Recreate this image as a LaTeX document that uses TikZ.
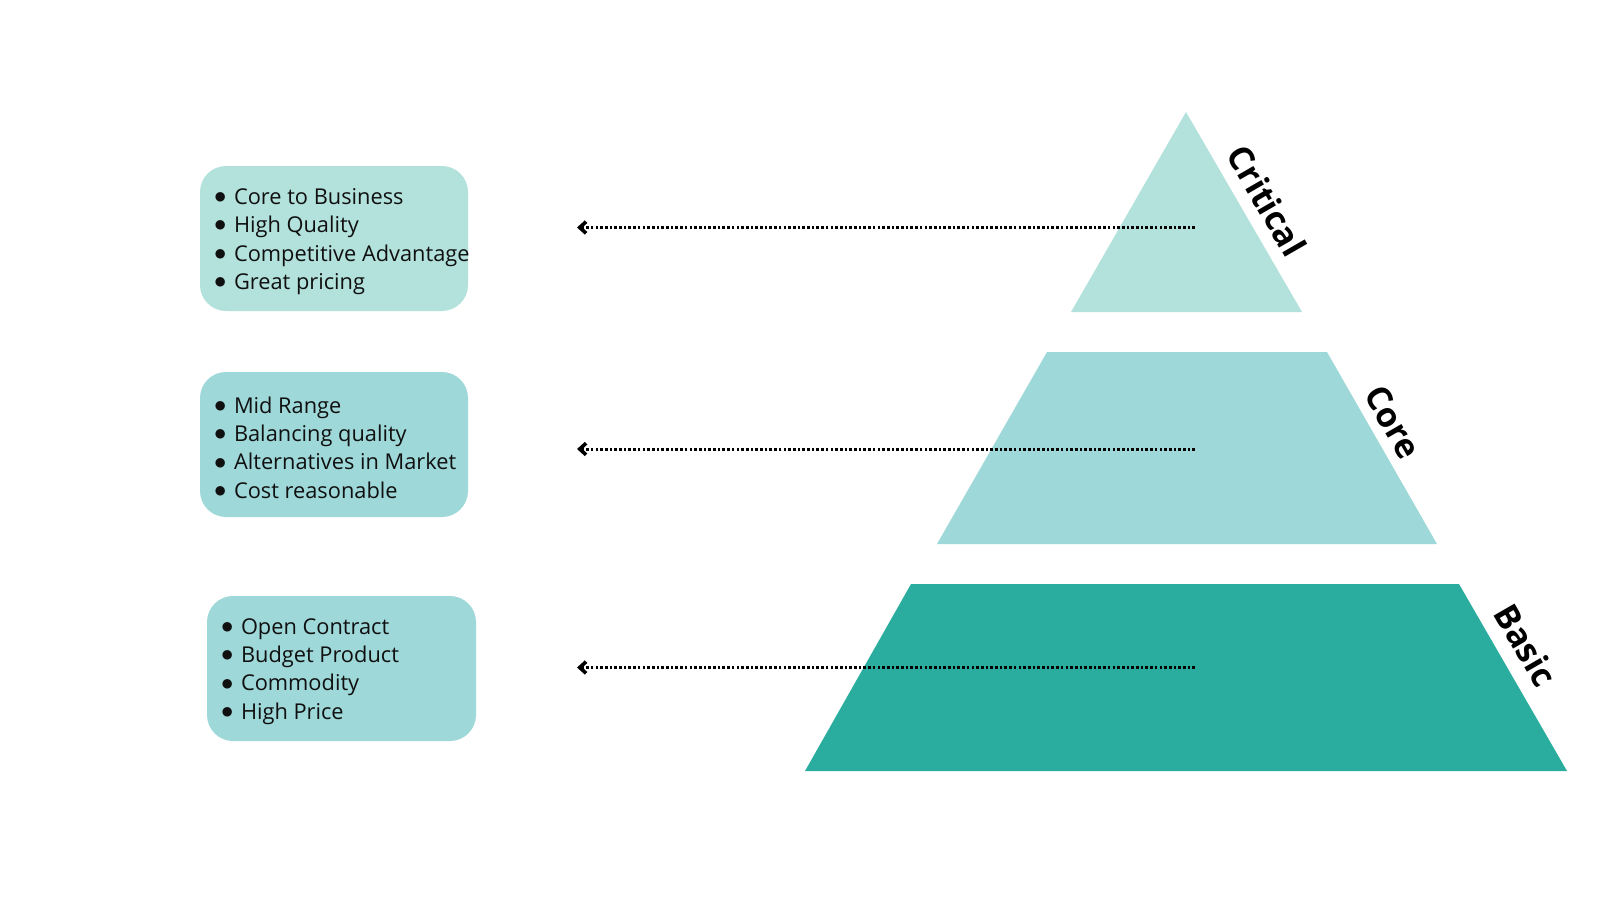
\documentclass[tikz,border=0pt]{standalone}
\usepackage{fontspec}
\setmainfont{Open Sans}
\newfontfamily\symfnt{DejaVu Sans}
\usetikzlibrary{arrows.meta}
\definecolor{lightteal}{HTML}{B3E2DC}
\definecolor{midteal}{HTML}{9ED8D9}
\definecolor{darkteal}{HTML}{2AAD9F}
\definecolor{ink}{HTML}{101010}
\newcommand\blt{\makebox[9.6pt][l]{\raisebox{1.9pt}{\symfnt\fontsize{6.2}{6}\selectfont ●}}}
\begin{document}
\begin{tikzpicture}[x=0.5pt,y=-0.5pt,
  box/.style={rounded corners=13pt, inner sep=0pt, minimum height=72.5pt},
  list/.style={align=left, inner sep=0pt, anchor=west, font=\fontsize{10.9}{14.2}\selectfont, text=ink},
  tier/.style={font=\fontsize{17}{20}\selectfont\bfseries, rotate=-60, inner sep=0pt, text=black},
  link/.style={line width=1.5pt, dash pattern=on 1.3pt off 1.05pt, -{Straight Barb[length=3.2pt,width=5.8pt,line width=1.8pt]}}]
\useasboundingbox (0,0) rectangle (1600,900);
% pyramid tiers
\fill[lightteal] (1186,112) -- (1302,312) -- (1071,312) -- cycle;
\fill[midteal] (1047,352) -- (1327,352) -- (1437,544) -- (937,544) -- cycle;
\fill[darkteal] (911,584) -- (1459,584) -- (1567,771) -- (805,771) -- cycle;
% tier labels
\node[tier] (lcrit) at (1267,201) {Critical};
\node[tier] (lcore) at (1393,422) {Core};
\node[tier] (lbasic) at (1526,645) {Basic};
% boxes
\node[box, fill=lightteal, minimum width=134pt] (b1) at (334,238.5) {};
\node[box, fill=midteal, minimum width=134pt] (b2) at (334,444.5) {};
\node[box, fill=midteal, minimum width=134.5pt] (b3) at (341.5,668.5) {};
\node[list] (l1) at ([xshift=7.4pt,yshift=-1.5pt]b1.west) {\blt Core to Business\\\blt High Quality\\\blt Competitive Advantage\\\blt Great pricing};
\node[list] (l2) at ([xshift=7.4pt,yshift=-1.5pt]b2.west) {\blt Mid Range\\\blt Balancing quality\\\blt Alternatives in Market\\\blt Cost reasonable};
\node[list] (l3) at ([xshift=7.4pt,yshift=-1.5pt]b3.west) {\blt Open Contract\\\blt Budget Product\\\blt Commodity\\\blt High Price};
% dotted arrows
\coordinate (s1) at (1195,227.5);
\coordinate (e1) at (577,227.5);
\coordinate (s2) at (1195,449);
\coordinate (e2) at (577,449);
\coordinate (s3) at (1195,667.5);
\coordinate (e3) at (577,667.5);
\draw[link] (s1) -- (e1);
\draw[link] (s2) -- (e2);
\draw[link] (s3) -- (e3);
\end{tikzpicture}
\end{document}
